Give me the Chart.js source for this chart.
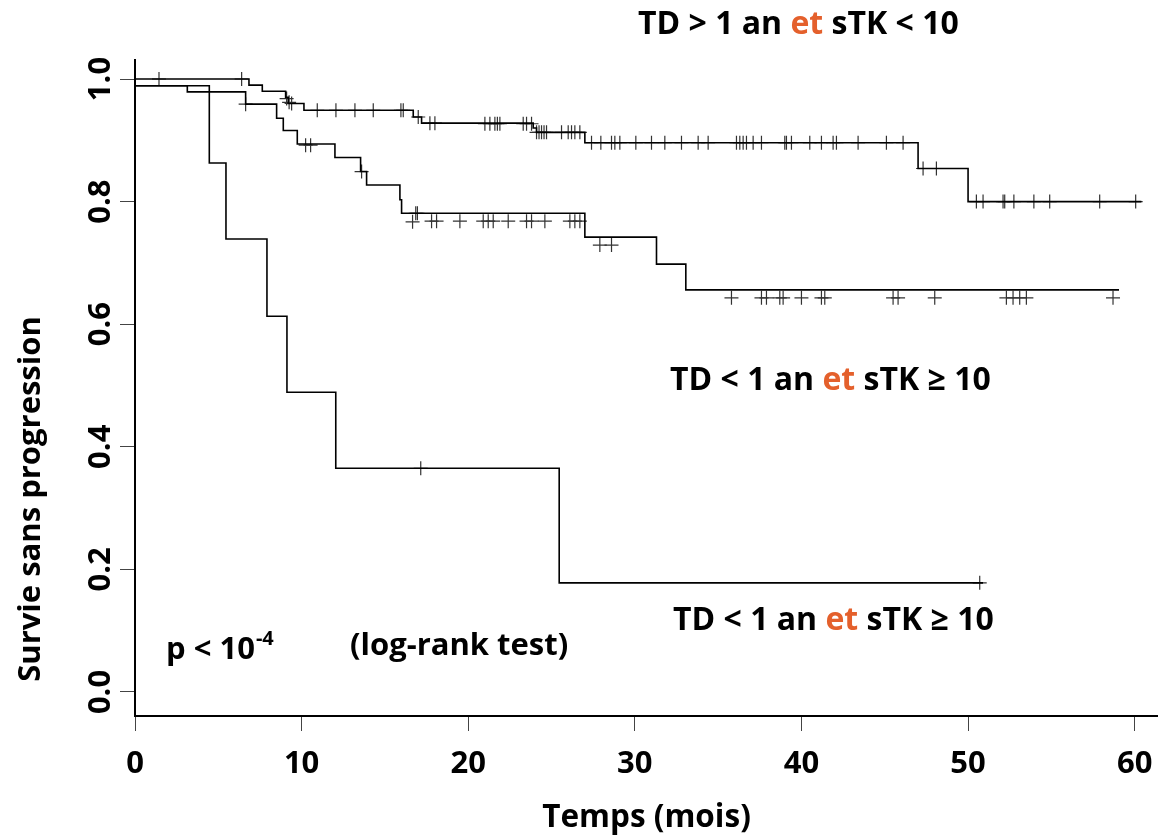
<!DOCTYPE html>
<html>
<head>
<meta charset="utf-8">
<script src="https://cdn.jsdelivr.net/npm/chart.js"></script>
<style>
  html, body { margin: 0; padding: 0; background: #fff; }
  #wrap { width: 1158px; height: 837px; }
</style>
</head>
<body>
<div id="wrap"><canvas id="km" width="1158" height="837"></canvas></div>
<script>
// Kaplan-Meier steps, [temps en mois, survie]
const stepsLong = [[0, 1.0], [6.84, 0.990], [7.64, 0.980], [9.04, 0.970], [9.2, 0.960], [10.14, 0.949],
  [16.7, 0.938], [17.2, 0.928], [23.9, 0.920], [24.1, 0.913], [27.0, 0.896], [47.0, 0.854],
  [50.0, 0.800], [60.4, 0.800]];
const stepsMid = [[0, 0.989], [3.14, 0.979], [6.64, 0.959], [8.5, 0.936], [8.9, 0.916], [9.74, 0.894],
  [12.0, 0.872], [13.54, 0.849], [13.9, 0.827], [15.9, 0.803], [16.0, 0.781], [27.0, 0.742],
  [31.3, 0.698], [33.06, 0.656], [59.06, 0.656]];
const stepsShort = [[0, 0.989], [4.46, 0.863], [5.46, 0.739], [7.92, 0.613], [9.12, 0.489],
  [12.05, 0.365], [25.46, 0.178], [50.9, 0.178]];

// censored patients (+)
const censorLong = [[1.44, 1.0], [6.4, 1.0], [9.1, 0.968], [9.25, 0.962], [9.4, 0.96],
  [10.94, 0.949], [12.06, 0.949], [13.2, 0.949], [14.3, 0.949], [15.96, 0.949], [16.1, 0.949],
  [17.0, 0.938], [17.7, 0.928], [18.0, 0.928],
  [21.0, 0.927], [21.3, 0.927], [21.6, 0.927], [21.75, 0.927], [21.9, 0.927], [23.3, 0.927], [23.5, 0.927], [23.8, 0.927],
  [24.1, 0.913], [24.25, 0.913], [24.4, 0.913], [24.55, 0.913], [24.7, 0.913],
  [25.6, 0.913], [26.0, 0.913], [26.2, 0.913], [26.4, 0.913], [26.7, 0.913],
  [27.4, 0.896], [27.96, 0.896], [28.6, 0.896], [28.8, 0.896], [29.1, 0.896], [30.06, 0.896],
  [31.0, 0.896], [31.8, 0.896], [32.8, 0.896], [33.8, 0.896], [34.4, 0.896], [36.1, 0.896],
  [36.3, 0.896], [36.5, 0.896], [36.7, 0.896], [37.1, 0.896], [37.6, 0.896], [39.0, 0.896],
  [39.1, 0.896], [39.4, 0.896], [40.5, 0.896], [41.2, 0.896], [41.9, 0.896], [42.1, 0.896],
  [43.4, 0.896], [45.1, 0.896], [46.1, 0.896],
  [47.3, 0.854], [48.1, 0.854],
  [50.5, 0.80], [50.9, 0.80], [52.1, 0.80], [52.2, 0.80], [52.75, 0.80], [53.95, 0.80],
  [54.9, 0.80], [57.9, 0.80], [60.06, 0.80]];
const censorMid = [[6.64, 0.959], [10.24, 0.892], [10.54, 0.892], [13.6, 0.849],
  [16.66, 0.767], [16.85, 0.781], [16.95, 0.781], [17.8, 0.768], [18.1, 0.768], [19.5, 0.768],
  [20.9, 0.768], [21.2, 0.768], [21.5, 0.768], [22.4, 0.768], [23.5, 0.768], [23.8, 0.768],
  [24.6, 0.768], [26.1, 0.768], [26.4, 0.768], [26.7, 0.768],
  [27.9, 0.729], [28.6, 0.729],
  [35.8, 0.643], [37.6, 0.643], [37.9, 0.643], [38.7, 0.643], [38.9, 0.643], [40.0, 0.643],
  [41.2, 0.643], [41.4, 0.643], [45.5, 0.643], [45.8, 0.643], [48.0, 0.643], [52.3, 0.643],
  [52.7, 0.643], [53.1, 0.643], [53.5, 0.643], [58.7, 0.643]];
const censorShort = [[17.15, 0.365], [50.7, 0.178]];

const xTicks = [0, 10, 20, 30, 40, 50, 60];
const yTicks = [0, 0.2, 0.4, 0.6, 0.8, 1.0];

const FONT = '"Open Sans", Lato, sans-serif';
const ORANGE = '#e4602c';

const toPts = arr => arr.map(([x, y]) => ({ x, y }));

function curve(steps) {
  return {
    data: toPts(steps), showLine: true, stepped: true,
    borderColor: '#000', borderWidth: 1.6, pointRadius: 0, fill: false
  };
}
function censors(arr) {
  return {
    data: toPts(arr), showLine: false, pointStyle: 'cross', pointRadius: 7,
    pointBorderWidth: 1.2, pointBorderColor: '#333', pointBackgroundColor: '#333'
  };
}

// group labels and test result, drawn over the plot
const notes = [
  { parts: ['TD > 1 an ', 'et', ' sTK < 10'], x: 638, y: 25 },
  { parts: ['TD < 1 an ', 'et', ' sTK \u2265 10'], x: 670, y: 381 },
  { parts: ['TD < 1 an ', 'et', ' sTK \u2265 10'], x: 673, y: 621 }
];

const textPlugin = {
  id: 'kmText',
  afterDraw(chart) {
    const ctx = chart.ctx;
    ctx.save();
    ctx.textBaseline = 'middle';
    ctx.textAlign = 'left';
    ctx.font = 'bold 32px ' + FONT;
    notes.forEach(n => {
      let x = n.x;
      n.parts.forEach((p, i) => {
        ctx.fillStyle = i === 1 ? ORANGE : '#000';
        ctx.fillText(p, x, n.y);
        x += ctx.measureText(p).width;
      });
    });

    // p < 10^-4
    ctx.fillStyle = '#000';
    ctx.font = 'bold 31px ' + FONT;
    ctx.fillText('p < 10', 166, 650);
    const w = ctx.measureText('p < 10').width;
    ctx.font = 'bold 20px ' + FONT;
    ctx.fillText('-4', 166 + w + 1, 639);
    ctx.font = 'bold 31px ' + FONT;
    ctx.fillText('(log-rank test)', 350, 646);

    // y axis title
    ctx.translate(31, 499);
    ctx.rotate(-Math.PI / 2);
    ctx.textAlign = 'center';
    ctx.font = 'bold 31px ' + FONT;
    ctx.fillText('Survie sans progression', 0, 0);
    ctx.restore();
  }
};

new Chart(document.getElementById('km'), {
  type: 'scatter',
  data: {
    datasets: [
      curve(stepsLong), curve(stepsMid), curve(stepsShort),
      censors(censorLong), censors(censorMid), censors(censorShort)
    ]
  },
  options: {
    responsive: false,
    animation: false,
    devicePixelRatio: 1,
    layout: { autoPadding: false, padding: { top: 60, right: 0, bottom: 0, left: 0 } },
    plugins: { legend: { display: false }, tooltip: { enabled: false } },
    scales: {
      x: {
        type: 'linear', min: 0, max: 61.4,
        afterBuildTicks: s => { s.ticks = xTicks.map(v => ({ value: v })); },
        afterFit: s => { s.height = 121; s.paddingRight = 0; },
        grid: { drawOnChartArea: false, tickLength: 15, color: '#444', lineWidth: 1 },
        border: { color: '#000', width: 2 },
        ticks: { color: '#000', font: { family: FONT, size: 31, weight: 'bold' }, padding: 15, maxRotation: 0 },
        title: { display: true, text: 'Temps (mois)', color: '#000', padding: 0,
                 font: { family: FONT, size: 31.5, weight: 'bold' } }
      },
      y: {
        type: 'linear', min: -0.0392, max: 1.031,
        afterBuildTicks: s => { s.ticks = yTicks.map(v => ({ value: v })); },
        afterFit: s => { s.width = 135; },
        grid: { drawOnChartArea: false, tickLength: 15, color: '#444', lineWidth: 1 },
        border: { color: '#000', width: 2 },
        ticks: {
          color: '#000', font: { family: FONT, size: 31, weight: 'bold' },
          minRotation: 90, maxRotation: 90, crossAlign: 'center', padding: -3,
          callback: v => v.toFixed(1)
        }
      }
    }
  },
  plugins: [textPlugin]
});
</script>
</body>
</html>
